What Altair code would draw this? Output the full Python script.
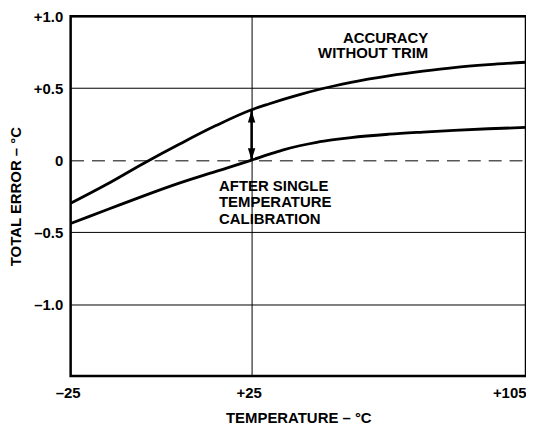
import altair as alt
import pandas as pd

FONT = "Liberation Sans"

# ---- data ----
temps = [-25, -15, -5, 5, 15, 25, 30, 34, 39, 44, 49, 54, 65, 75, 84, 94, 105]
without_trim = [-0.30, -0.168, -0.025, 0.11, 0.238, 0.35, 0.39, 0.42, 0.455, 0.487, 0.515, 0.54,
                0.585, 0.618, 0.643, 0.663, 0.68]
after_cal = [-0.44, -0.345, -0.25, -0.16, -0.08, 0.0, 0.04, 0.07, 0.10, 0.124, 0.142, 0.157,
             0.18, 0.195, 0.207, 0.218, 0.227]

x_ticks = [-25, 25, 105]
x_tick_labels = ["–25", "+25", "+105"]
y_ticks = [-1.0, -0.5, 0.0, 0.5, 1.0]
y_tick_labels = ["–1.0", "–0.5", "0", "+0.5", "+1.0"]

ann_text = ["ACCURACY", "WITHOUT TRIM", "AFTER SINGLE", "TEMPERATURE", "CALIBRATION"]
ann_x = [76.5, 76.5, 16.0, 16.0, 16.0]
ann_y = [0.849, 0.742, -0.181, -0.292, -0.406]
ann_align = ["right", "right", "left", "left", "left"]

arrow_x = [25]
arrow_top = [0.344]
arrow_bottom = [0.0]

# ---- tables ----
curves = pd.DataFrame({
    "t": temps * 2,
    "err": without_trim + after_cal,
    "series": ["without"] * len(temps) + ["after"] * len(temps),
})
ann = pd.DataFrame({"text": ann_text, "t": ann_x, "v": ann_y, "align": ann_align})
arrow = pd.DataFrame({"t": arrow_x, "ytop": arrow_top, "ybot": arrow_bottom})


def label_expr(vals, labels):
    expr = "''"
    for v, l in zip(vals, labels):
        expr = f"abs(datum.value - ({v})) < 1e-6 ? '{l}' : ({expr})"
    return expr


W = 458
H = 362
xscale = alt.Scale(domain=[-25, 25, 105], range=[0, 182, W])
yscale = alt.Scale(domain=[-1.5, 1.0], range=[H, 0], nice=False, zero=False)

xaxis = alt.Axis(
    values=x_ticks,
    labelExpr=label_expr(x_ticks, x_tick_labels),
    title="TEMPERATURE – °C",
    domain=False,
    ticks=False,
    grid=True,
    gridColor="black",
    gridWidth=1,
    gridOpacity={"condition": {"test": "datum.value == 25", "value": 1}, "value": 0},
    labelAlign={"condition": {"test": "datum.value == 105", "value": "right"}, "value": "center"},
    labelOffset={"condition": {"test": "datum.value < 100", "value": -3}, "value": 0},
    labelPadding=10,
    titlePadding=10,
)
yaxis = alt.Axis(
    values=y_ticks,
    labelExpr=label_expr(y_ticks, y_tick_labels),
    title="TOTAL ERROR – °C",
    domain=False,
    ticks=False,
    grid=True,
    gridColor="black",
    gridWidth=1,
    gridDash={"condition": {"test": "datum.value == 0", "value": [13, 8]}, "value": []},
    labelPadding=8,
    titlePadding=10,
)

base_x = alt.X("t:Q", scale=xscale, axis=xaxis)
base_y = alt.Y("err:Q", scale=yscale, axis=yaxis)

lines = alt.Chart(curves).mark_line(
    color="black", strokeWidth=2.8, interpolate="monotone", clip=True
).encode(x=base_x, y=base_y, detail="series:N")

rule = alt.Chart(arrow).mark_rule(color="black", strokeWidth=2.5).encode(
    x=alt.X("t:Q", scale=xscale),
    y=alt.Y("ytop:Q", scale=yscale),
    y2="ybot:Q",
)
# relative (lowercase) paths: tip at the anchor point, 12 px long, 7.5 px wide
head_up = alt.Chart(arrow).mark_point(
    shape="m0,0l-0.62,2l1.24,0z", size=144, filled=True,
    fill="black", fillOpacity=1, strokeOpacity=0,
).encode(x=alt.X("t:Q", scale=xscale), y=alt.Y("ytop:Q", scale=yscale))
head_down = alt.Chart(arrow).mark_point(
    shape="m0,0l-0.62,-2l1.24,0z", size=144, filled=True,
    fill="black", fillOpacity=1, strokeOpacity=0,
).encode(x=alt.X("t:Q", scale=xscale), y=alt.Y("ybot:Q", scale=yscale))


def text_layer(align):
    return alt.Chart(ann).transform_filter(
        alt.datum.align == align
    ).mark_text(
        font=FONT, fontSize=15, fontWeight="bold", color="black",
        baseline="middle", align=align,
    ).encode(
        x=alt.X("t:Q", scale=xscale),
        y=alt.Y("v:Q", scale=yscale),
        text="text:N",
    )


chart = (
    alt.layer(lines, rule, head_up, head_down, text_layer("right"), text_layer("left"))
    .properties(width=W, height=H, background="white",
                padding={"left": 0, "top": 0, "right": 0, "bottom": 0})
    .configure_view(stroke="black", strokeWidth=2.5)
    .configure_axis(
        labelFont=FONT,
        labelFontSize=15,
        labelFontWeight="bold",
        labelColor="black",
        titleFont=FONT,
        titleFontSize=15,
        titleFontWeight="bold",
        titleColor="black",
    )
)

chart.save("out.html", embed_options={"renderer": "svg", "actions": False})
